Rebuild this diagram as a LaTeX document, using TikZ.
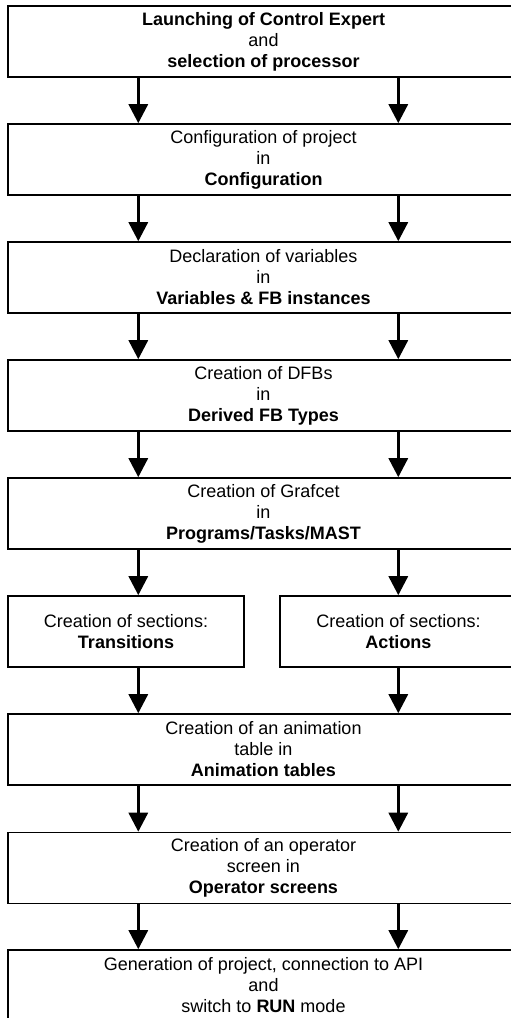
\documentclass[tikz,border=0pt]{standalone}
\usepackage{fontspec}
\setmainfont{Liberation Sans}
\usetikzlibrary{arrows.meta}
\begin{document}
\begin{tikzpicture}[x=1pt,y=-1pt,
  box/.style={draw=black, line width=1.6pt, fill=white, rectangle, align=center,
    minimum height=71pt, inner sep=0pt, font=\fontsize{18}{21}\selectfont},
  wide/.style={box, minimum width=511pt},
  half/.style={box},
  arr/.style={line width=3pt, -{Triangle[width=19pt,length=19pt]}}]
\path[use as bounding box] (0,0) rectangle (511,1018);
\coordinate (cl) at (138.3,0);
\coordinate (cr) at (398.3,0);
\node[wide] (b1) at (263.5,41.5) {\textbf{Launching of Control Expert}\\and\\\textbf{selection of processor}};
\node[wide] (b2) at (263.5,159.5) {Configuration of project\\in\\\textbf{Configuration}};
\node[wide] (b3) at (263.5,277.5) {Declaration of variables\\in\\\textbf{Variables \& FB instances}};
\node[wide] (b4) at (263.5,395.5) {Creation of DFBs\\in\\\textbf{Derived FB Types}};
\node[wide] (b5) at (263.5,513.5) {Creation of Grafcet\\in\\\textbf{Programs/Tasks/MAST}};
\node[half, minimum width=236pt] (b6l) at (126,631.5) {Creation of sections:\\\textbf{Transitions}};
\node[half, minimum width=237pt] (b6r) at (398.5,631.5) {Creation of sections:\\\textbf{Actions}};
\node[wide] (b7) at (263.5,749.5) {Creation of an animation\\table in\\\textbf{Animation tables}};
\node[wide] (b8) at (263.5,868) {Creation of an operator\\screen in\\\textbf{Operator screens}};
\node[wide] (b9) at (263.5,985.5) {Generation of project, connection to API\\and\\switch to \textbf{RUN} mode};
\foreach \a/\b in {b1/b2,b2/b3,b3/b4,b4/b5,b7/b8,b8/b9}{
  \draw[arr] (\a.south -| cl) -- (\b.north -| cl);
  \draw[arr] (\a.south -| cr) -- (\b.north -| cr);
}
\draw[arr] (b5.south -| cl) -- (b6l.north -| cl);
\draw[arr] (b5.south -| cr) -- (b6r.north -| cr);
\draw[arr] (b6l.south -| cl) -- (b7.north -| cl);
\draw[arr] (b6r.south -| cr) -- (b7.north -| cr);
\end{tikzpicture}
\end{document}
